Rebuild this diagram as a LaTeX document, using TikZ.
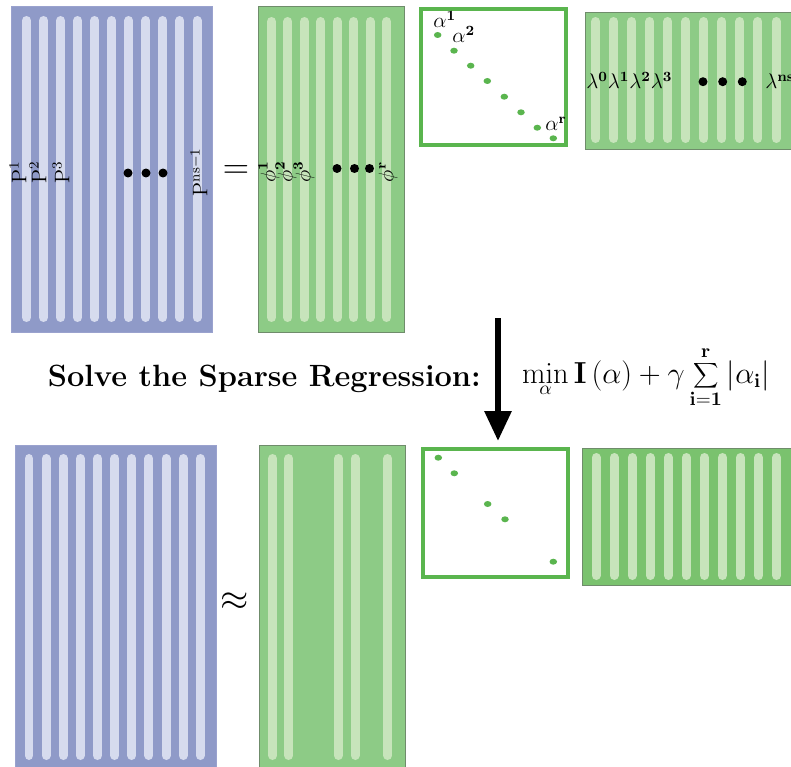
\documentclass[tikz,border=0pt]{standalone}
\usetikzlibrary{arrows.meta}
\definecolor{bluefill}{HTML}{8F9AC8}
\definecolor{blueline}{HTML}{9AA2CE}
\definecolor{bluelight}{HTML}{D6DBEE}
\definecolor{greenfill}{HTML}{8DCB86}
\definecolor{greendark}{HTML}{7AC26E}
\definecolor{greenline}{HTML}{6F8C6B}
\definecolor{greenlight}{HTML}{C7E4BB}
\definecolor{alphagreen}{HTML}{5AB54E}
\tikzset{
  bluemat/.style={fill=bluefill, draw=blueline, line width=0.02cm},
  greenmat/.style={fill=greenfill, draw=greenline, line width=0.02cm},
  stripe/.style={line width=0.18cm, line cap=round},
  coefbox/.style={draw=alphagreen, line width=0.08cm, fill=white},
  coefdot/.style={fill=alphagreen},
  vlabel/.style={rotate=90, inner sep=0pt, font=\fontsize{11.5}{13}\selectfont},
  hlabel/.style={inner sep=0pt, font=\fontsize{11.5}{13}\selectfont},
  bigsign/.style={inner sep=0pt, font=\fontsize{20}{24}\selectfont},
}
\begin{document}
\begin{tikzpicture}[x=0.02cm, y=-0.02cm]
\useasboundingbox (0,0) rectangle (791,767);
\clip (0,0) rectangle (791,767);

% top row: P = Phi alpha, Lambda
\draw[bluemat] (11,7) rectangle (212,332);
\foreach \i in {0,...,10}
  \draw[stripe, bluelight] ({26.5+17.05*\i},20.5) -- ++(0,297);
\node[vlabel] (p1) at (18,172) {$\mathrm{P}^{1}$};
\node[vlabel] (p2) at (38,172) {$\mathrm{P}^{2}$};
\node[vlabel] (p3) at (61,172) {$\mathrm{P}^{3}$};
\node[vlabel] (pn) at (199,172) {$\mathrm{P}^{\mathrm{ns}-1}$};
\foreach \x in {128,146,163}
  \fill (\x,173) circle (0.09cm);
\node[bigsign] (eqsign) at (236,172) {$=$};

\draw[greenmat] (258,7) rectangle (404,332);
\foreach \i in {0,...,7}
  \draw[stripe, greenlight] ({271.5+16.45*\i},21.5) -- ++(0,296);
\node[vlabel] (phi1) at (269,172) {$\phi^{\mathbf{1}}$};
\node[vlabel] (phi2) at (286,172) {$\phi^{\mathbf{2}}$};
\node[vlabel] (phi3) at (304,172) {$\phi^{\mathbf{3}}$};
\node[vlabel] (phir) at (388,172) {$\phi^{\mathbf{r}}$};
\foreach \x in {337,354.5,369.5}
  \fill (\x,168.5) circle (0.09cm);

\draw[coefbox] (421,9) rectangle (566,145);
\foreach \x/\y in {437.7/35,454/50.7,470.7/65.7,487.3/81,504.3/96.7,521/112.3,537.3/127.7,553.3/138.3}
  \fill[coefdot] (\x,\y) ellipse (0.075cm and 0.06cm);
\node[hlabel, anchor=base west] (alpha1) at (433,28) {$\alpha^{\mathbf{1}}$};
\node[hlabel, anchor=base west] (alpha2) at (452,43) {$\alpha^{\mathbf{2}}$};
\node[hlabel, anchor=base west] (alphar) at (545,131) {$\alpha^{\mathbf{r}}$};

\draw[greenmat] (585,13) rectangle (800,149);
\foreach \i in {0,...,10}
  \draw[stripe, greenlight] ({595.7+18.03*\i},21.5) -- ++(0,117);
\node[hlabel, anchor=base west] (lam03) at (586,89) {$\lambda^{\mathbf{0}}\lambda^{\mathbf{1}}\lambda^{\mathbf{2}}\lambda^{\mathbf{3}}$};
\foreach \x in {703,722.7,742.3}
  \fill (\x,81.7) circle (0.09cm);
\node[hlabel, anchor=base west] (lamn) at (765,89) {$\lambda^{\mathbf{ns-1}}$};

% sparse regression step
\coordinate (arrtop) at (498,318);
\coordinate (arrtip) at (498,441);
\draw[line width=0.12cm, -{Triangle[length=0.6cm, width=0.52cm]}] (arrtop) -- (arrtip);
\node[anchor=base east, font=\fontsize{17.5}{20}\selectfont\bfseries] (solvetxt) at (487,386) {Solve the Sparse Regression:};
\node[anchor=base west, font=\fontsize{16}{19}\selectfont] (costfn) at (516,383)
  {$\displaystyle\min_{\alpha}\mathbf{I}\left(\alpha\right)+\gamma\sum_{\mathbf{i=1}}^{\mathbf{r}}\left|\alpha_{\mathbf{i}}\right|$};

% bottom row: P ~ sparse Phi alpha, Lambda
\draw[bluemat] (15,445) rectangle (216,800);
\foreach \i in {0,...,10}
  \draw[stripe, bluelight] ({29+17.13*\i},458.5) -- ++(0,297);
\node[bigsign] (apxsign) at (235,602) {$\approx$};

\draw[greenmat] (259,445) rectangle (405,800);
\foreach \x in {272.7,288.7,338.3,355,387.7}
  \draw[stripe, greenlight] (\x,458.5) -- ++(0,297);

\draw[coefbox] (423,449) rectangle (568,577);
\foreach \x/\y in {438.3/457.7,454.3/473.3,487.7/504,505/519.3,553.3/561.7}
  \fill[coefdot] (\x,\y) ellipse (0.075cm and 0.06cm);

\draw[greenmat, fill=greendark] (582,448) rectangle (800,585);
\foreach \i in {0,...,10}
  \draw[stripe, greenlight] ({596+18.07*\i},457.5) -- ++(0,118);
\end{tikzpicture}
\end{document}
